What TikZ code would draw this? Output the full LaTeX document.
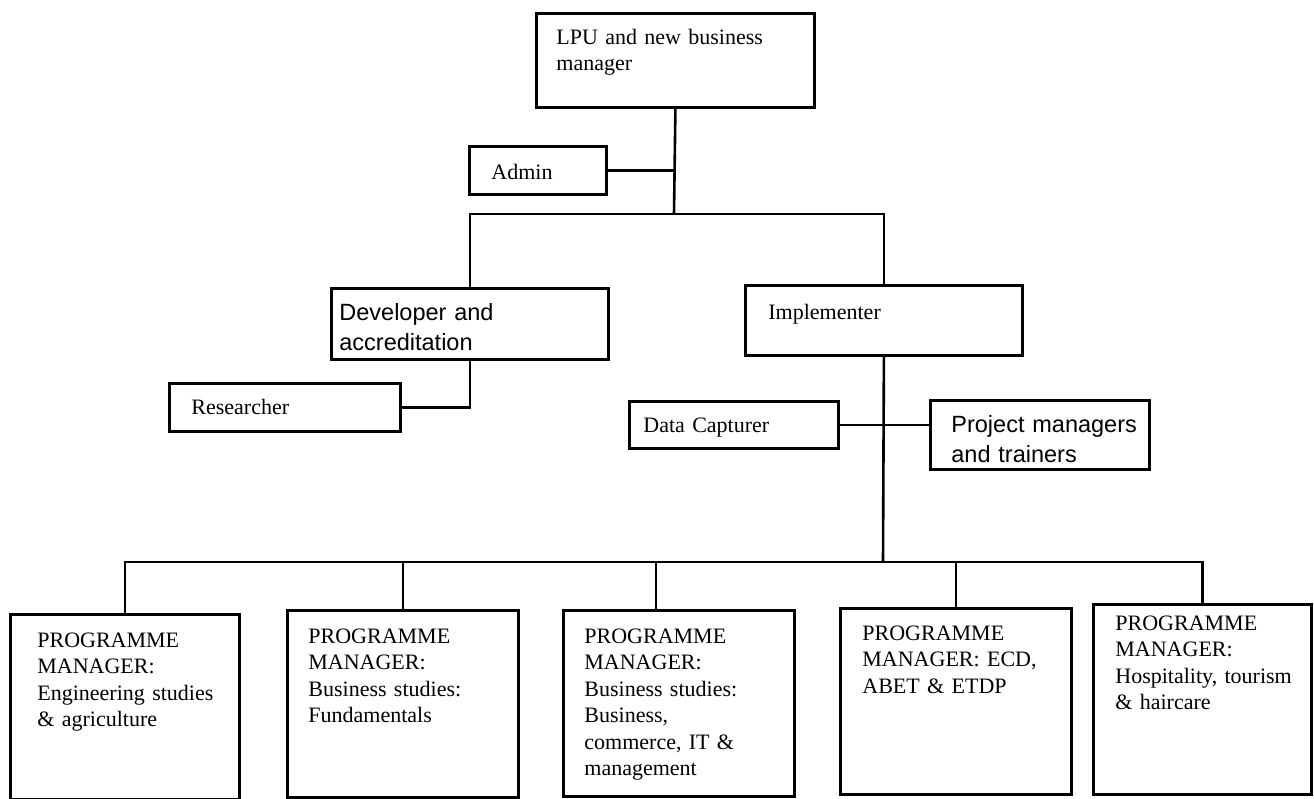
\documentclass[tikz,border=0pt]{standalone}
\usepackage{fontspec}
\setmainfont{Liberation Serif}
\newfontfamily\arialfont{Liberation Sans}
\usepackage{tikz}
\usetikzlibrary{calc}
\lefthyphenmin=64

\begin{document}
\begin{tikzpicture}[x=1pt,y=-1pt,
      b/.style={draw,line width=2.8pt,anchor=north west,align=left,inner ysep=0pt,
        font=\fontsize{22}{26.5}\selectfont},
      s/.style={font=\arialfont\fontsize{23.5}{30}\selectfont},
      pm/.style={b,text width=#1,text height=33pt,text depth=152pt},
      l/.style={line width=2.6pt}]
      \useasboundingbox (0,0) rectangle (1314,798);
      \node[b,inner xsep=20pt,text width=238pt,text height=31pt,text depth=63pt] (lpu) at (535,12)
        {LPU and new business\\manager};
      \node[b,inner xsep=22pt,text width=93pt,text height=33pt,text depth=15pt] (admin) at (468,145) {Admin};
      \node[b,s,inner xsep=8pt,text width=261pt,text height=32pt,text depth=39pt] (dev) at (330,287)
        {Developer and\\accreditation};
      \node[b,inner xsep=22pt,text width=187pt,text height=31pt,text depth=17pt] (res) at (168,382) {Researcher};
      \node[b,inner xsep=23pt,text width=231pt,text height=34pt,text depth=36pt] (impl) at (744,284) {Implementer};
      \node[b,inner xsep=14pt,text width=181pt,text height=31pt,text depth=16pt] (data) at (628,400) {Data Capturer};
      \node[b,s,inner xsep=21pt,text width=177pt,text height=32pt,text depth=37pt] (proj) at (929,399)
        {Project~managers\\and trainers};
      \node[pm=175pt,inner xsep=27pt] (b1) at (9,613)
        {PROGRAMME\\MANAGER:\\Engineering~studies\\\&~agriculture};
      \node[pm=189pt,inner xsep=21pt,text depth=154pt] (b2) at (286,609)
        {PROGRAMME\\MANAGER:\\Business~studies:\\Fundamentals};
      \node[pm=189pt,inner xsep=21pt,text depth=153pt] (b3) at (562,609)
        {PROGRAMME\\MANAGER:\\Business~studies:\\Business,\\commerce,~IT~\&\\management};
      \node[pm=187pt,inner xsep=22pt,text height=32pt,text depth=154pt] (b4) at (839,607)
        {PROGRAMME\\MANAGER:~ECD,\\ABET~\&~ETDP};
      \node[pm=174pt,inner xsep=22pt,text height=26pt,text depth=164pt] (b5) at (1092,603)
        {PROGRAMME\\MANAGER:\\Hospitality,~tourism\\\&~haircare};
      \coordinate (top) at (674,214);
      \coordinate (bus) at (883,562);
      \draw[l] (lpu.south) -- (top);
      \draw[l] (admin.east) -- (admin.east -| top);
      \draw[l] (dev.north) |- (top) -| (impl.north);
      \draw[l] (dev.south) |- (res.east);
      \draw[l] (impl.south) -- (bus);
      \draw[l] (data.east) -- (data.east -| proj.west);
      \draw[l] (b1.north) |- (bus) -| (b5.north);
      \foreach \n in {b2,b4}
        \draw[l] (\n.north) -- (\n.north |- bus);
      \draw[l] ([xshift=-23pt]b3.north) -- ([xshift=-23pt]b3.north |- bus);
    \end{tikzpicture}
\end{document}
